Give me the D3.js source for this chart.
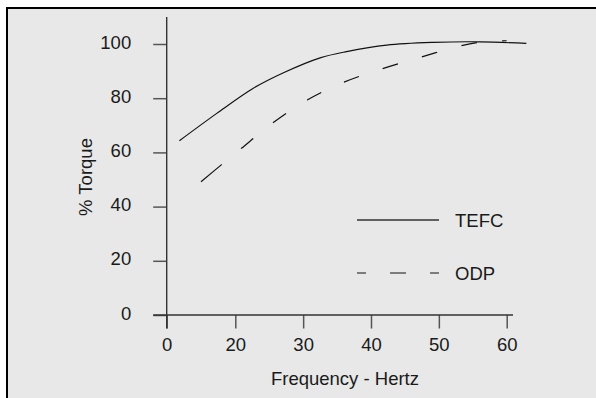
<!DOCTYPE html>
<html>
<head>
<meta charset="utf-8">
<script src="https://cdn.jsdelivr.net/npm/d3@7"></script>
<style>
  html, body { margin: 0; padding: 0; background: #ffffff; }
  svg { display: block; }
  text { font-family: "Liberation Sans", Arial, sans-serif; fill: #1a1a1a; }
</style>
</head>
<body>
<svg id="chart" width="596" height="398"></svg>
<script>
// ---- data ----
const xTicks = [0, 20, 30, 40, 50, 60];
const yTicks = [0, 20, 40, 60, 80, 100];
const seriesNames = ["TEFC", "ODP"];
const tefcFreq   = [3.7, 14.6, 22.6, 27.1, 32.5, 36.4, 42.3, 49.2, 56.1, 62.9];
const tefcTorque = [64.3, 74.4, 83.6, 89.4, 94.9, 97.2, 99.6, 100.6, 100.8, 100.2];
const odpFreq    = [10, 16, 20.9, 25.6, 30.6, 36, 41.7, 47.4, 53.2, 56, 60];
const odpTorque  = [49.2, 55.5, 61.5, 71, 79.3, 85.9, 90.9, 95.2, 99.3, 100.6, 101.2];
const xLabel = "Frequency - Hertz";
const yLabel = "% Torque";

// ---- layout ----
const svg = d3.select("#chart");
svg.append("rect").attr("x", 7).attr("y", 8).attr("width", 600).attr("height", 400)
  .attr("fill", "#e8e8e8").attr("stroke", "#000").attr("stroke-width", 2);

// polylinear x scale: the axis places 0 and 20 one step apart, like 20..60
const x = d3.scaleLinear().domain([0, 20, 60]).range([166.7, 235.3, 506.7]);
const y = d3.scaleLinear().domain([0, 110]).range([315, 16.9]);
const tick = 13.5;

const g = svg.append("g");

// axes
const xAxis = d3.axisBottom(x).tickValues(xTicks).tickFormat(d3.format("d"))
  .tickSizeInner(tick).tickSizeOuter(0).tickPadding(9.5);
const gx = g.append("g").attr("transform", `translate(0,${y(0)})`).call(xAxis);
gx.select(".domain").remove();
gx.selectAll(".tick line").attr("stroke", "#555").attr("stroke-width", 1.5);
gx.selectAll(".tick text").attr("font-size", 18.5).attr("fill", "#1a1a1a");

const yAxis = d3.axisLeft(y).tickValues(yTicks).tickFormat(d3.format("d"))
  .tickSizeInner(tick).tickSizeOuter(0).tickPadding(22);
const gy = g.append("g").attr("transform", `translate(${x(0)},0)`).call(yAxis);
gy.select(".domain").remove();
gy.selectAll(".tick line").attr("stroke", "#555").attr("stroke-width", 1.5);
gy.selectAll(".tick text").attr("font-size", 18.5).attr("fill", "#1a1a1a").attr("dy", "0.22em");

// axis lines (extend past origin by tick length)
g.append("line").attr("x1", x(0) - tick).attr("x2", 513).attr("y1", y(0)).attr("y2", y(0))
  .attr("stroke", "#333").attr("stroke-width", 1.4);
g.append("line").attr("x1", x(0)).attr("x2", x(0)).attr("y1", y(110)).attr("y2", y(0) + tick)
  .attr("stroke", "#333").attr("stroke-width", 1.4);

// axis titles
g.append("text").attr("x", 345).attr("y", 385).attr("text-anchor", "middle")
  .attr("font-size", 18.5).text(xLabel);
g.append("text").attr("transform", "translate(92,177) rotate(-90)").attr("text-anchor", "middle")
  .attr("font-size", 18.5).text(yLabel);

// curves
const line = d3.line().x(d => x(d[0])).y(d => y(d[1])).curve(d3.curveCatmullRom.alpha(0.5));
const tefc = tefcFreq.map((f, i) => [f, tefcTorque[i]]);
const odp = odpFreq.map((f, i) => [f, odpTorque[i]]);

g.append("path").attr("d", line(tefc)).attr("fill", "none")
  .attr("stroke", "#111").attr("stroke-width", 1.2);

const dash = [27, 25];
for (let i = 0; i < 20; i++) dash.push(16, 25);
g.append("path").attr("d", line(odp)).attr("fill", "none")
  .attr("stroke", "#111").attr("stroke-width", 1.2).attr("stroke-dasharray", dash.join(","));

// legend
const legendY = [220, 273];
const lg = g.append("g");
lg.append("line").attr("x1", 357).attr("x2", 439).attr("y1", legendY[0]).attr("y2", legendY[0])
  .attr("stroke", "#333").attr("stroke-width", 1.4);
lg.append("line").attr("x1", 357).attr("x2", 439).attr("y1", legendY[1]).attr("y2", legendY[1])
  .attr("stroke", "#111").attr("stroke-width", 1.2).attr("stroke-dasharray", "9,24,16,24,9");
seriesNames.forEach((n, i) => {
  lg.append("text").attr("x", 455).attr("y", legendY[i] + 6.5).attr("font-size", 18.5).text(n);
});
</script>
</body>
</html>
